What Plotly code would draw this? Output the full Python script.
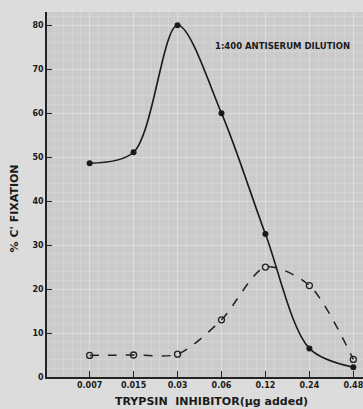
import plotly.graph_objects as go

categories = ["0.007", "0.015", "0.03", "0.06", "0.12", "0.24", "0.48"]
solid_values = [48.6, 51.1, 80.0, 60.0, 32.5, 6.5, 2.2]
dashed_values = [4.9, 5.0, 5.2, 13.0, 25.0, 20.8, 4.0]
y_ticks = [0, 10, 20, 30, 40, 50, 60, 70, 80]

xpos = list(range(len(categories)))

fig = go.Figure()
fig.add_trace(go.Scatter(
    x=xpos, y=dashed_values, mode="lines+markers",
    line=dict(color="#222222", width=1.5, dash="dash", shape="spline", smoothing=0.8),
    marker=dict(symbol="circle-open", size=6, color="#222222", line=dict(width=1.3)),
    showlegend=False))
fig.add_trace(go.Scatter(
    x=xpos, y=solid_values, mode="lines+markers",
    line=dict(color="#1a1a1a", width=1.6, shape="spline", smoothing=0.9),
    marker=dict(symbol="circle", size=6, color="#1a1a1a"),
    showlegend=False))

font_main = "DejaVu Sans, Arial, sans-serif"
fig.update_layout(
    width=363, height=409,
    margin=dict(l=47, r=0, t=12, b=32),
    paper_bgcolor="#dcdcdc",
    plot_bgcolor="#cbcbcb",
    font=dict(family=font_main, color="#1a1a1a"),
    xaxis=dict(
        range=[-0.97, 6.22], tickvals=xpos, ticktext=categories,
        ticks="inside", ticklen=6, tickcolor="#222222", tickwidth=1.2,
        showline=True, linecolor="#222222", linewidth=1.6,
        showgrid=True, gridcolor="rgba(255,255,255,0.22)", gridwidth=1,
        tickfont=dict(size=8, family=font_main, color="#1a1a1a", weight="bold"),
        ticklabeloverflow="allow",
        zeroline=False,
        minor=dict(dtick=0.2, showgrid=True, gridcolor="rgba(255,255,255,0.16)", gridwidth=1),
    ),
    yaxis=dict(
        range=[0, 83], tickvals=y_ticks,
        ticks="inside", ticklen=5, tickcolor="#222222", tickwidth=1.2,
        showline=True, linecolor="#222222", linewidth=1.6,
        showgrid=True, gridcolor="rgba(255,255,255,0.22)", gridwidth=1,
        tickfont=dict(size=8, family=font_main, color="#1a1a1a", weight="bold"),
        zeroline=False,
        minor=dict(dtick=2, showgrid=True, gridcolor="rgba(255,255,255,0.16)", gridwidth=1),
    ),
)

fig.add_annotation(text="<b>1:400 ANTISERUM DILUTION</b>", xref="paper", yref="paper",
                   x=0.745, y=0.907, showarrow=False, xanchor="center", yanchor="middle",
                   font=dict(size=8.5, family=font_main, color="#1a1a1a"))
fig.add_annotation(text="<b>% C' FIXATION</b>", xref="paper", yref="paper",
                   x=-0.103, y=0.463, showarrow=False, textangle=-90,
                   xanchor="center", yanchor="middle",
                   font=dict(size=11, family=font_main, color="#1a1a1a"))
fig.add_annotation(text="<b>TRYPSIN  INHIBITOR(µg added)</b>", xref="paper", yref="paper",
                   x=0.52, y=-0.045, showarrow=False, xanchor="center", yanchor="top",
                   font=dict(size=11, family=font_main, color="#1a1a1a"))

fig.write_html("out.html", config={"displayModeBar": False},
               post_script="document.body.style.margin='0';document.body.style.overflow='hidden';")
